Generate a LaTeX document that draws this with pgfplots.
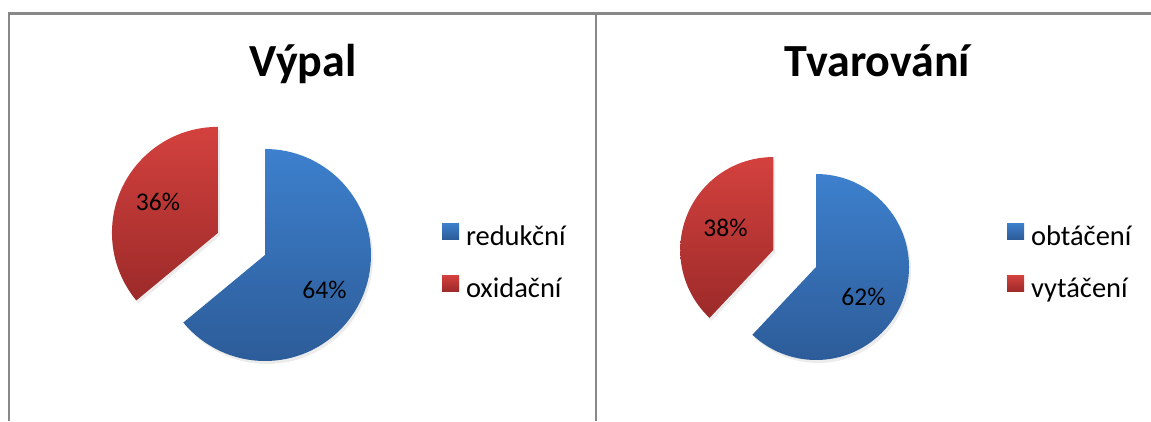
\documentclass[border=0pt]{standalone}
\usepackage{fontspec}
\setmainfont{Carlito}
\usepackage{pgfplots}
\usepackage{pgfplotstable}
\pgfplotsset{compat=1.18}
\usetikzlibrary{shadows}

\definecolor{bluetop}{HTML}{3D80CD}
\definecolor{bluebot}{HTML}{2D5C99}
\definecolor{redtop}{HTML}{D3413E}
\definecolor{redbot}{HTML}{9C2A29}
\definecolor{framegray}{HTML}{888888}

% share of each part, in percent
\pgfplotstableread{
part value
0 64
1 36
}\vypal
\pgfplotstableread{
part value
0 62
1 38
}\tvarovani

\pgfplotsset{
  panel/.style={
    x=1pt, y=1pt, xmin=0, xmax=1151, ymin=0, ymax=421,
    scale only axis, hide axis, clip=false,
    at={(0,0)}, anchor=south west,
    legend cell align=left,
    legend style={draw=none, fill=none, inner sep=0pt, outer sep=0pt,
      font=\fontsize{28.5}{32}\selectfont,
      row sep=24.5pt, column sep=7pt,
      nodes={inner sep=0pt, text height=20pt, text depth=6pt}},
  },
  sq/.style 2 args={legend image code/.code={
    \shade[draw=none, top color=#1, bottom color=#2] (0pt,-1pt) rectangle (17pt,15pt);}},
}
\tikzset{pieshadow/.style={drop shadow={shadow xshift=2pt, shadow yshift=-3pt, opacity=0.15}}}

\begin{document}
\begin{tikzpicture}
% left pie
\pgfplotstablegetelem{0}{value}\of\vypal \pgfmathsetmacro\lA{\pgfplotsretval}
\pgfplotstablegetelem{1}{value}\of\vypal \pgfmathsetmacro\lB{\pgfplotsretval}
\pgfmathsetmacro\lend{90-3.6*\lA}
\pgfmathsetmacro\lmid{90+1.8*\lB}
\pgfmathsetmacro\lrx{265+52*cos(\lmid)}
\pgfmathsetmacro\lry{166+52*sin(\lmid)}
% right pie
\pgfplotstablegetelem{0}{value}\of\tvarovani \pgfmathsetmacro\rA{\pgfplotsretval}
\pgfplotstablegetelem{1}{value}\of\tvarovani \pgfmathsetmacro\rB{\pgfplotsretval}
\pgfmathsetmacro\rend{90-3.6*\rA}
\pgfmathsetmacro\rmid{90+1.8*\rB}
\pgfmathsetmacro\rrx{816+46*cos(\rmid)}
\pgfmathsetmacro\rry{154+46*sin(\rmid)}

\begin{axis}[panel, legend style={at={(0.38402,0.47031)}, anchor=north west}]
  \addlegendimage{sq={bluetop}{bluebot}}
  \addlegendentry{redukční}
  \addlegendimage{sq={redtop}{redbot}}
  \addlegendentry{oxidační}
  \shade[top color=bluetop, bottom color=bluebot, pieshadow]
    (axis cs:265,166) -- ++(90:106pt) arc[start angle=90, end angle=\lend, radius=106pt] -- cycle;
  \shade[top color=redtop, bottom color=redbot, pieshadow]
    (axis cs:\lrx,\lry) -- ++(90:106pt) arc[start angle=90, end angle=\lend+360, radius=106pt] -- cycle;
  \node[anchor=base, font=\fontsize{25.5}{30}\selectfont] at (axis cs:158,211) {36\%};
  \node[anchor=base, font=\fontsize{25.5}{30}\selectfont] at (axis cs:324.5,123) {64\%};
  \node[anchor=base, font=\fontsize{46}{50}\selectfont\bfseries] at (axis cs:303,344) {Výpal};
  \draw[framegray, line width=2.5pt] (axis cs:9,0) -- (axis cs:9,407.5) -- (axis cs:1151,407.5);
  \draw[framegray, line width=2.5pt] (axis cs:596,0) -- (axis cs:596,407.5);
\end{axis}

\begin{axis}[panel, legend style={at={(0.87489,0.47031)}, anchor=north west}]
  \addlegendimage{sq={bluetop}{bluebot}}
  \addlegendentry{obtáčení}
  \addlegendimage{sq={redtop}{redbot}}
  \addlegendentry{vytáčení}
  \shade[top color=bluetop, bottom color=bluebot, pieshadow]
    (axis cs:816,154) -- ++(90:93pt) arc[start angle=90, end angle=\rend, radius=93pt] -- cycle;
  \shade[top color=redtop, bottom color=redbot, pieshadow]
    (axis cs:\rrx,\rry) -- ++(90:93pt) arc[start angle=90, end angle=\rend+360, radius=93pt] -- cycle;
  \node[anchor=base, font=\fontsize{25.5}{30}\selectfont] at (axis cs:725.5,184) {38\%};
  \node[anchor=base, font=\fontsize{25.5}{30}\selectfont] at (axis cs:863.5,116) {62\%};
  \node[anchor=base, font=\fontsize{46}{50}\selectfont\bfseries] at (axis cs:877.5,344) {Tvarování};
\end{axis}
\pgfresetboundingbox
\path[use as bounding box] (0,0) rectangle (1151pt,421pt);
\end{tikzpicture}
\end{document}
